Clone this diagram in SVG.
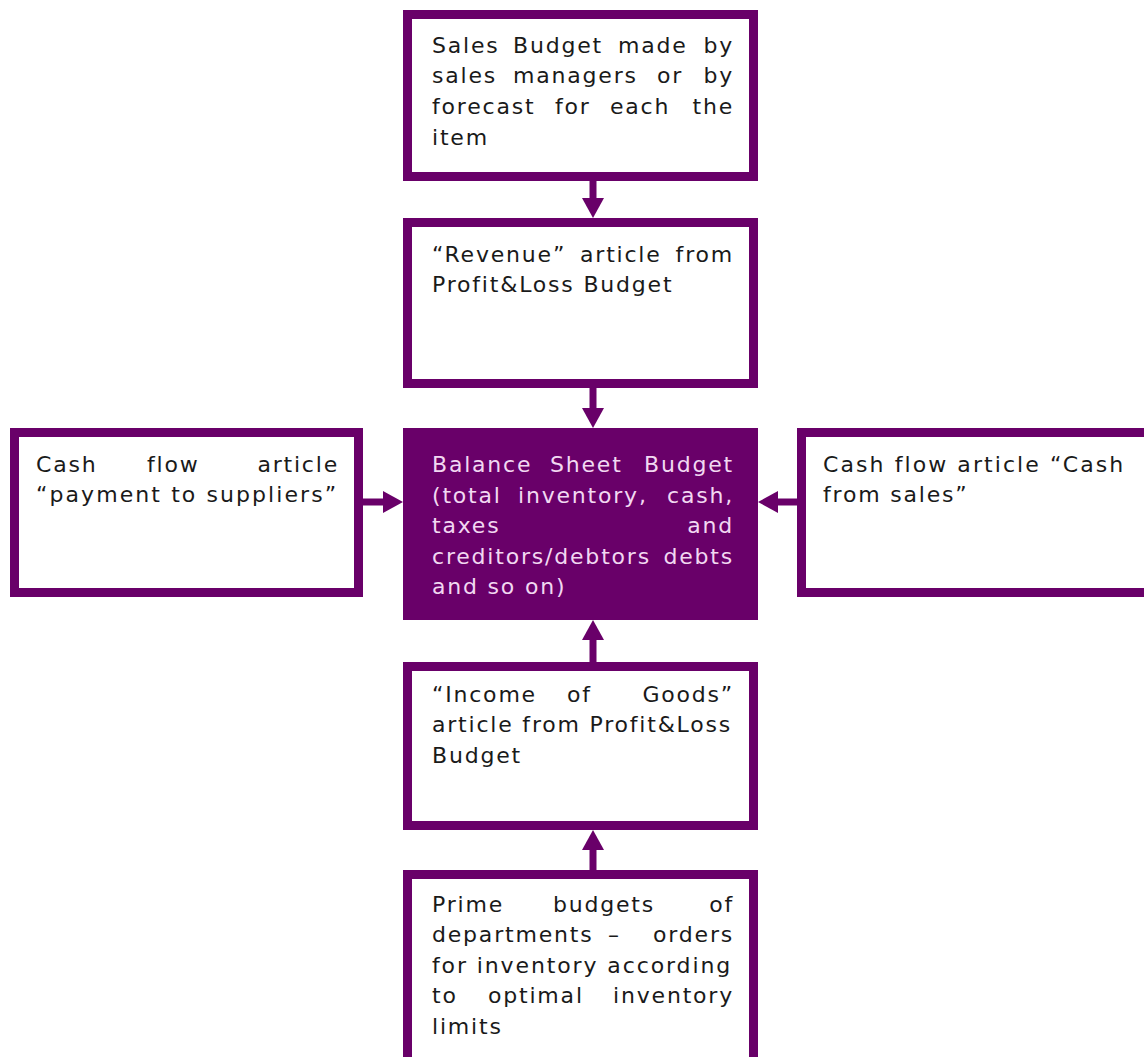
<svg xmlns="http://www.w3.org/2000/svg" width="1144" height="1057" viewBox="0 0 1144 1057">
<style>
.box{fill:#ffffff;stroke:#690069;stroke-width:9}
.dark{fill:#690069;stroke:none}
.t{font-family:"DejaVu Sans",Verdana,sans-serif;font-size:22px;letter-spacing:1.8px;fill:#1a1a1a}
.w{fill:#f2d8f2}
.e{text-anchor:end}
.conn{stroke:#690069;stroke-width:7;fill:none}
</style>
<defs>
<marker id="ah" markerUnits="userSpaceOnUse" markerWidth="22" markerHeight="24" refX="2" refY="11" orient="auto" viewBox="0 0 22 22">
<path d="M0,0 L20,11 L0,22 z" fill="#690069"/>
</marker>
</defs>
<rect width="1144" height="1057" fill="#ffffff"/>

<g id="connectors">
<line class="conn" x1="593" y1="181" x2="593" y2="200" marker-end="url(#ah)"/>
<line class="conn" x1="593" y1="388" x2="593" y2="410" marker-end="url(#ah)"/>
<line class="conn" x1="593" y1="662" x2="593" y2="638" marker-end="url(#ah)"/>
<line class="conn" x1="593" y1="870" x2="593" y2="848" marker-end="url(#ah)"/>
<line class="conn" x1="363" y1="502" x2="385" y2="502" marker-end="url(#ah)"/>
<line class="conn" x1="797" y1="502" x2="776" y2="502" marker-end="url(#ah)"/>
</g>

<g id="sales-budget">
<rect class="box" x="407.5" y="14.5" width="346" height="162"/>
<text class="t" y="53"><tspan x="432">Sales</tspan><tspan x="513">Budget</tspan><tspan x="618">made</tspan><tspan class="e" x="734">by</tspan></text>
<text class="t" y="83"><tspan x="432">sales</tspan><tspan x="513">managers</tspan><tspan x="657">or</tspan><tspan class="e" x="734">by</tspan></text>
<text class="t" y="114"><tspan x="432">forecast</tspan><tspan x="555">for</tspan><tspan x="610">each</tspan><tspan class="e" x="734">the</tspan></text>
<text class="t" x="432" y="145">item</text>
</g>

<g id="revenue">
<rect class="box" x="407.5" y="222.5" width="346" height="161"/>
<text class="t" y="262"><tspan x="432">“Revenue”</tspan><tspan x="580">article</tspan><tspan class="e" x="734">from</tspan></text>
<text class="t" x="432" y="292">Profit&amp;Loss Budget</text>
</g>

<g id="balance-sheet">
<rect class="dark" x="403" y="428" width="355" height="192"/>
<text class="t w" y="472"><tspan x="432">Balance</tspan><tspan x="550">Sheet</tspan><tspan class="e" x="734">Budget</tspan></text>
<text class="t w" y="503"><tspan x="432">(total</tspan><tspan x="518">inventory,</tspan><tspan class="e" x="734">cash,</tspan></text>
<text class="t w" y="533"><tspan x="432">taxes</tspan><tspan class="e" x="734">and</tspan></text>
<text class="t w" y="564"><tspan x="432">creditors/debtors</tspan><tspan class="e" x="734">debts</tspan></text>
<text class="t w" x="432" y="594">and so on)</text>
</g>

<g id="payment-suppliers">
<rect class="box" x="14.5" y="432.5" width="344" height="160"/>
<text class="t" y="472"><tspan x="36">Cash</tspan><tspan x="147">flow</tspan><tspan class="e" x="339">article</tspan></text>
<text class="t" x="36" y="502" textLength="302" lengthAdjust="spacing">“payment to suppliers”</text>
</g>

<g id="cash-from-sales">
<rect class="box" x="801.5" y="432.5" width="400" height="160"/>
<text class="t" x="823" y="472" textLength="302" lengthAdjust="spacing">Cash flow article “Cash</text>
<text class="t" x="823" y="502">from sales”</text>
</g>

<g id="income-goods">
<rect class="box" x="407.5" y="666.5" width="346" height="159"/>
<text class="t" y="702"><tspan x="432">“Income</tspan><tspan x="567">of</tspan><tspan class="e" x="734">Goods”</tspan></text>
<text class="t" x="432" y="732" textLength="300" lengthAdjust="spacing">article from Profit&amp;Loss</text>
<text class="t" x="432" y="763">Budget</text>
</g>

<g id="prime-budgets">
<rect class="box" x="407.5" y="874.5" width="346" height="210"/>
<text class="t" y="912"><tspan x="432">Prime</tspan><tspan x="553">budgets</tspan><tspan class="e" x="734">of</tspan></text>
<text class="t" y="942"><tspan x="432">departments</tspan><tspan x="608">–</tspan><tspan class="e" x="734">orders</tspan></text>
<text class="t" x="432" y="973" textLength="300" lengthAdjust="spacing">for inventory according</text>
<text class="t" y="1003"><tspan x="432">to</tspan><tspan x="488">optimal</tspan><tspan class="e" x="734">inventory</tspan></text>
<text class="t" x="432" y="1034">limits</text>
</g>
</svg>
